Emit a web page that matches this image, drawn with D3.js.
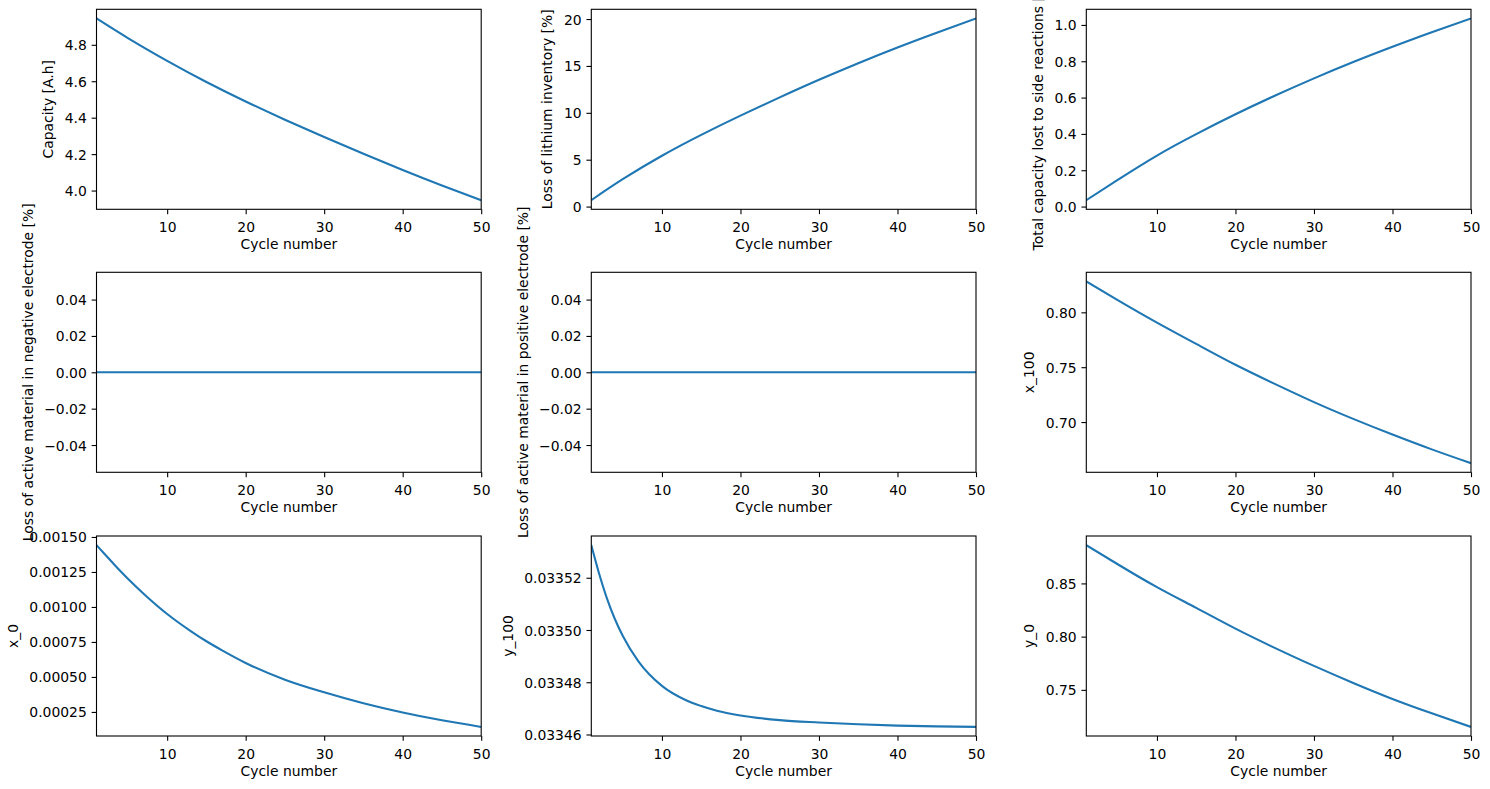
<!DOCTYPE html>
<html>
<head>
<meta charset="utf-8">
<script src="https://cdn.jsdelivr.net/npm/d3@7/dist/d3.min.js"></script>
<style>
  body { margin: 0; background: #fff; }
  svg { display: block; }
  text { font-family: "DejaVu Sans", sans-serif; fill: #000; }
</style>
</head>
<body>
<svg id="fig" width="1490" height="789"></svg>
<script>
// values
var cycles     = [1, 5, 10, 15, 20, 25, 30, 35, 40, 45, 50];
var cyclesFine = [1, 2, 3, 4, 5, 7, 10, 13, 15, 17, 20, 25, 30, 35, 40, 45, 50];

var capacity = [4.945, 4.837, 4.712, 4.596, 4.489, 4.389, 4.294, 4.202, 4.113, 4.028, 3.947];
var lli      = [0.68, 2.92, 5.42, 7.645, 9.695, 11.645, 13.52, 15.295, 16.97, 18.545, 20.07];
var sideLoss = [0.035, 0.147, 0.281, 0.399, 0.508, 0.610, 0.706, 0.796, 0.880, 0.960, 1.036];
var lamNeg   = [0, 0, 0, 0, 0, 0, 0, 0, 0, 0, 0];
var lamPos   = [0, 0, 0, 0, 0, 0, 0, 0, 0, 0, 0];
var x100     = [0.8282, 0.8111, 0.7906, 0.7712, 0.7522, 0.7348, 0.7182, 0.7029, 0.6886, 0.6751, 0.6625];
var x0       = [0.001442, 0.001380, 0.001319, 0.001259, 0.001202, 0.001095, 0.000950, 0.000828,
                0.000755, 0.000690, 0.000600, 0.000480, 0.000390, 0.000312, 0.000246, 0.000190, 0.000143];
var y100     = [0.0335325, 0.0335215, 0.0335120, 0.0335042, 0.0334978, 0.0334880, 0.0334786, 0.0334732,
                0.0334709, 0.0334691, 0.0334673, 0.0334655, 0.0334646, 0.0334639, 0.0334634, 0.0334631, 0.0334629];
var y0       = [0.886, 0.868, 0.8465, 0.827, 0.8075, 0.7895, 0.7725, 0.7565, 0.7415, 0.728, 0.7152];

var xTicks = [10, 20, 30, 40, 50];
var yLabels = [
  'Capacity [A.h]',
  'Loss of lithium inventory [%]',
  'Total capacity lost to side reactions [A.h]',
  'Loss of active material in negative electrode [%]',
  'Loss of active material in positive electrode [%]',
  'x_100', 'x_0', 'y_100', 'y_0'
];
var yTicks = [
  [4.0, 4.2, 4.4, 4.6, 4.8],
  [0, 5, 10, 15, 20],
  [0.0, 0.2, 0.4, 0.6, 0.8, 1.0],
  [-0.04, -0.02, 0, 0.02, 0.04],
  [-0.04, -0.02, 0, 0.02, 0.04],
  [0.70, 0.75, 0.80],
  [0.00025, 0.00050, 0.00075, 0.00100, 0.00125, 0.00150],
  [0.03346, 0.03348, 0.03350, 0.03352],
  [0.75, 0.80, 0.85]
];
var yFormats = ['.1f', 'd', '.1f', '.2f', '.2f', '.2f', '.5f', '.5f', '.2f'];
var series = [
  [cycles, capacity], [cycles, lli], [cycles, sideLoss],
  [cycles, lamNeg], [cycles, lamPos], [cycles, x100],
  [cyclesFine, x0], [cyclesFine, y100], [cycles, y0]
];

// layout (pixels, matplotlib 100 dpi)
var colLeft = [96.5, 591.3, 1086.3];
var rowTop = [9.3, 272.3, 536];
var w = 384.7, h = 200;
var fs = 13.9, tickLen = 4.86, tickPad = 4.86;
var blue = '#1f77b4';

var svg = d3.select('#fig');
svg.append('rect').attr('width', 1490).attr('height', 789).attr('fill', '#fff');

// matplotlib style autoscale: 5% margins, flat data padded
function autoDomain(vals) {
  var lo = d3.min(vals), hi = d3.max(vals);
  if (lo === hi) { lo -= 0.05; hi += 0.05; }
  var m = (hi - lo) * 0.05;
  return [lo - m, hi + m];
}

series.forEach(function(s, i) {
  var xs = s[0], ys = s[1];
  var g = svg.append('g')
      .attr('transform', 'translate(' + colLeft[i % 3] + ',' + rowTop[Math.floor(i / 3)] + ')');

  var x = d3.scaleLinear().domain([1, 50]).range([0, w]);
  var y = d3.scaleLinear().domain(autoDomain(ys)).range([h, 0]);

  g.append('clipPath').attr('id', 'clip' + i)
    .append('rect').attr('width', w).attr('height', h);

  var line = d3.line()
      .x(function(d) { return x(d[0]); })
      .y(function(d) { return y(d[1]); })
      .curve(xs === cyclesFine ? d3.curveMonotoneX : d3.curveNatural);

  g.append('path')
      .datum(d3.zip(xs, ys))
      .attr('clip-path', 'url(#clip' + i + ')')
      .attr('d', line)
      .attr('fill', 'none')
      .attr('stroke', blue)
      .attr('stroke-width', 2.08)
      .attr('stroke-linejoin', 'round');

  var xAxis = g.append('g')
      .attr('transform', 'translate(0,' + h + ')')
      .call(d3.axisBottom(x).tickValues(xTicks).tickFormat(d3.format('d'))
        .tickSize(tickLen).tickPadding(tickPad));
  xAxis.selectAll('text').attr('dy', '0.92em');

  var yAxis = g.append('g')
      .call(d3.axisLeft(y).tickValues(yTicks[i]).tickFormat(d3.format(yFormats[i]))
        .tickSize(tickLen).tickPadding(tickPad));
  yAxis.selectAll('text').attr('dy', '0.36em');

  [xAxis, yAxis].forEach(function(a) {
    a.select('.domain').remove();
    a.selectAll('line').attr('stroke', '#000').attr('stroke-width', 1.1);
    a.selectAll('text').attr('font-size', fs).attr('font-family', 'DejaVu Sans').attr('fill', '#000');
  });

  g.append('rect')
      .attr('width', w).attr('height', h)
      .attr('fill', 'none').attr('stroke', '#000').attr('stroke-width', 1.1);

  g.append('text')
      .attr('x', w / 2).attr('y', h + 40)
      .attr('text-anchor', 'middle')
      .attr('font-size', fs)
      .text('Cycle number');

  var left = yAxis.node().getBBox().x;
  g.append('text')
      .attr('transform', 'translate(' + (left - 11.5) + ',' + (h / 2) + ') rotate(-90)')
      .attr('text-anchor', 'middle')
      .attr('font-size', fs)
      .text(yLabels[i]);
});
</script>
</body>
</html>
